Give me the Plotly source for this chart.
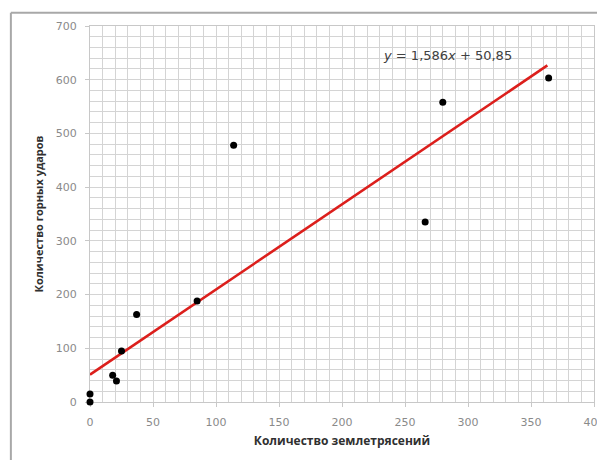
import plotly.graph_objects as go

# Data
earthquakes = [0, 0, 18, 21, 25, 37, 85, 114, 266, 280, 364]
rockbursts = [15, 0, 50, 39, 95, 163, 188, 478, 335, 558, 603]
slope = 1.586
intercept = 50.85
trend_x = [0, 363]
trend_y = [slope * v + intercept for v in trend_x]

x_ticks = [0, 50, 100, 150, 200, 250, 300, 350, 400]
y_ticks = [0, 100, 200, 300, 400, 500, 600, 700]

fig = go.Figure()
fig.add_trace(go.Scatter(x=trend_x, y=trend_y, mode="lines",
                         line=dict(color="#dc1f1c", width=2.6), showlegend=False))
fig.add_trace(go.Scatter(x=earthquakes, y=rockbursts, mode="markers", cliponaxis=False,
                         marker=dict(color="black", size=7), showlegend=False))

grid = "#d4d4d4"
tickfont = dict(family="DejaVu Sans", size=11, color="#8a8a8a")
fig.update_layout(
    width=597, height=452,
    margin=dict(l=82, r=11, t=18, b=58),
    paper_bgcolor="white", plot_bgcolor="white",
    xaxis=dict(range=[0, 400], tickvals=x_ticks, showgrid=True, gridcolor=grid, gridwidth=1,
               minor=dict(dtick=10, showgrid=True, gridcolor=grid, gridwidth=1),
               zeroline=False, showline=True, linecolor="#c8c8c8", mirror=True,
               ticks="outside", ticklen=4, tickcolor="#c8c8c8", automargin=False,
               layer="below traces",
               tickfont=tickfont, ticklabelstandoff=6,
               title=dict(text="<b>Количество землетрясений</b>",
                          font=dict(family="Open Sans", size=12, color="#303030"), standoff=8)),
    yaxis=dict(range=[0, 700], tickvals=y_ticks, showgrid=True, gridcolor=grid, gridwidth=1,
               minor=dict(dtick=20, showgrid=True, gridcolor=grid, gridwidth=1),
               zeroline=False, showline=True, linecolor="#c8c8c8", mirror=True,
               ticks="outside", ticklen=4, tickcolor="#c8c8c8", automargin=False,
               layer="below traces",
               tickfont=tickfont, ticklabelstandoff=6,
               title=dict(text="<b>Количество горных ударов</b>",
                          font=dict(family="Open Sans", size=11, color="#303030"), standoff=9)),
    annotations=[dict(x=284, y=646, xref="x", yref="y", xanchor="center", yanchor="middle",
                      text="<i>y</i> = 1,586<i>x</i> + 50,85", showarrow=False,
                      font=dict(family="DejaVu Sans", size=13, color="#404040"))],
    shapes=[
        dict(type="line", xref="paper", yref="paper", x0=-0.157, x1=1.1, y0=1.035, y1=1.035,
             line=dict(color="#a8a8a8", width=2)),
        dict(type="line", xref="paper", yref="paper", x0=-0.157, x1=-0.157, y0=1.035, y1=-0.2,
             line=dict(color="#a8a8a8", width=2)),
    ],
)
fig.write_html("out.html")
